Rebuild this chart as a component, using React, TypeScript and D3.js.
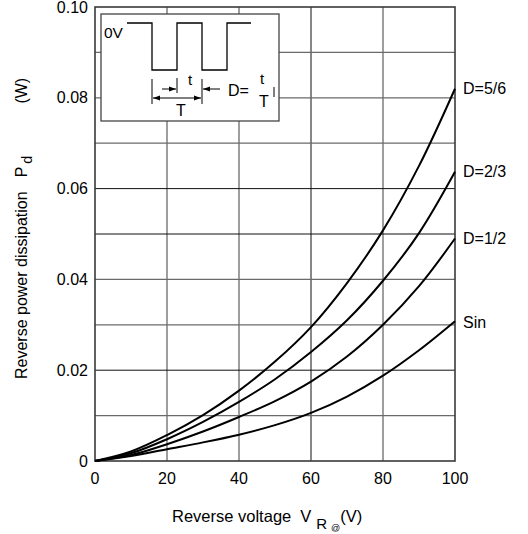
import React from "react";
import * as d3 from "d3";

const voltages = [0, 10, 20, 30, 40, 50, 60, 70, 80, 90, 100];
const d56 = [0, 0.0021, 0.0057, 0.0101, 0.0155, 0.0219, 0.0295, 0.0392, 0.0508, 0.065, 0.082];
const d23 = [0, 0.0017, 0.0048, 0.0086, 0.013, 0.018, 0.024, 0.031, 0.0397, 0.0502, 0.0637];
const d12 = [0, 0.0013, 0.0037, 0.0065, 0.0097, 0.0132, 0.0175, 0.023, 0.030, 0.0385, 0.049];
const dSin = [0, 0.0011, 0.0026, 0.0041, 0.0058, 0.0079, 0.0106, 0.0142, 0.0188, 0.0244, 0.0308];
const seriesNames = ["D=5/6", "D=2/3", "D=1/2", "Sin"];
const xTicks = [0, 20, 40, 60, 80, 100];
const yTicks = [0, 0.02, 0.04, 0.06, 0.08, 0.1];
const yTickLabels = ["0", "0.02", "0.04", "0.06", "0.08", "0.10"];
const xGrid = [20, 40, 60, 80];
const yGrid = [0.01, 0.02, 0.03, 0.04, 0.05, 0.06, 0.07, 0.08, 0.09];
const darkX = [60];
const darkY = [0.02, 0.05, 0.06];

const W = 528, H = 534;
const L = 95, R = 455, T = 7, B = 461;
const FONT = "'Liberation Sans', Arial, sans-serif";

export default function App() {
  const x = d3.scaleLinear().domain([0, 100]).range([L, R]);
  const y = d3.scaleLinear().domain([0, 0.1]).range([B, T]);
  const line = d3
    .line<number>()
    .x((_, i) => x(voltages[i]))
    .y((v) => y(v))
    .curve(d3.curveCatmullRom.alpha(0.5));
  const series = [d56, d23, d12, dSin];

  const iL = 101, iT = 14, iR = 279, iB = 121;
  const hi = 23, lo = 70;
  const wave = `M127,${hi}H152V${lo}H177V${hi}H202V${lo}H227V${hi}H251`;

  return (
    <svg
      width={W}
      height={H}
      style={{ position: "absolute", left: 0, top: 0, display: "block", background: "#fff" }}
      fontFamily={FONT}
    >
      <defs>
        <marker id="ah" viewBox="0 0 10 10" refX="10" refY="5" markerWidth="7" markerHeight="7" orient="auto-start-reverse" markerUnits="userSpaceOnUse">
          <path d="M0,1.5L10,5L0,8.5z" fill="#000" />
        </marker>
      </defs>
      <rect x={0} y={0} width={W} height={H} fill="#fff" />
      {xGrid.map((v) => (
        <line key={"gx" + v} x1={x(v)} x2={x(v)} y1={T} y2={B}
          stroke={darkX.includes(v) ? "#111" : "#6a6a6a"} strokeWidth={darkX.includes(v) ? 1 : 1.3} />
      ))}
      {yGrid.map((v) => (
        <line key={"gy" + v} x1={L} x2={R} y1={y(v)} y2={y(v)}
          stroke={darkY.includes(v) ? "#111" : "#6a6a6a"} strokeWidth={darkY.includes(v) ? 1 : 1.3} />
      ))}
      <rect x={L} y={T} width={R - L} height={B - T} fill="none" stroke="#3a3a3a" strokeWidth={1.6} />

      {series.map((s, i) => (
        <path key={seriesNames[i]} d={line(s) || ""} fill="none" stroke="#000" strokeWidth={2} />
      ))}
      {series.map((s, i) => (
        <text key={"lbl" + i} x={R + 8} y={y(s[s.length - 1]) + (i === 3 ? 1 : 0)} dy="0.35em" fontSize={16} fill="#000">
          {seriesNames[i]}
        </text>
      ))}

      {yTicks.map((v, i) => (
        <text key={"yt" + v} x={L - 7} y={y(v)} dy="0.35em" textAnchor="end" fontSize={16} fill="#000">
          {yTickLabels[i]}
        </text>
      ))}
      {xTicks.map((v) => (
        <text key={"xt" + v} x={x(v)} y={B + 17} dy="0.35em" textAnchor="middle" fontSize={16} fill="#000">
          {v}
        </text>
      ))}

      <text transform={`translate(27,379) rotate(-90)`} textAnchor="start" fontSize={16} fill="#000">
        Reverse power dissipation
        <tspan dx="14">P</tspan>
        <tspan fontSize={14.5} dx="3" dy="5">d</tspan>
        <tspan dx="52" dy="-5">(W)</tspan>
      </text>
      <text x={172} y={522} fontSize={16.5} fill="#000">
        Reverse voltage
        <tspan dx="9">V</tspan>
        <tspan fontSize={15} dx="5" dy="7">R</tspan>
        <tspan fontSize={9} dx="4" dy="2">@</tspan>
        <tspan dy="-9">(V)</tspan>
      </text>

      <rect x={iL} y={iT} width={iR - iL} height={iB - iT} fill="#fff" stroke="#444" strokeWidth={1.3} />
      <text x={104} y={33} dy="0.35em" fontSize={15.5} fill="#000">0V</text>
      <path d={wave} fill="none" stroke="#000" strokeWidth={1.3} />
      <line x1={152} x2={152} y1={79} y2={104} stroke="#000" strokeWidth={1} />
      <line x1={202} x2={202} y1={79} y2={104} stroke="#000" strokeWidth={1} />
      <line x1={177} x2={177} y1={78} y2={93} stroke="#000" strokeWidth={1} />
      <line x1={153} x2={201} y1={98} y2={98} stroke="#000" strokeWidth={1} markerStart="url(#ah)" markerEnd="url(#ah)" />
      <line x1={162} x2={176} y1={89} y2={89} stroke="#000" strokeWidth={1} markerEnd="url(#ah)" />
      <line x1={220} x2={203} y1={89} y2={89} stroke="#000" strokeWidth={1} markerEnd="url(#ah)" />
      <text x={190} y={80} dy="0.35em" textAnchor="middle" fontSize={15} fill="#000">t</text>
      <text x={181} y={110} dy="0.35em" textAnchor="middle" fontSize={16} fill="#000">T</text>
      <text x={228} y={90} dy="0.35em" fontSize={16} fill="#000">D=</text>
      <text x={262} y={79} dy="0.35em" textAnchor="middle" fontSize={15} fill="#000">t</text>
      <text x={264} y={101} dy="0.35em" textAnchor="middle" fontSize={16} fill="#000">T</text>
      <line x1={274} x2={274} y1={87} y2={97} stroke="#000" strokeWidth={1} />
    </svg>
  );
}
